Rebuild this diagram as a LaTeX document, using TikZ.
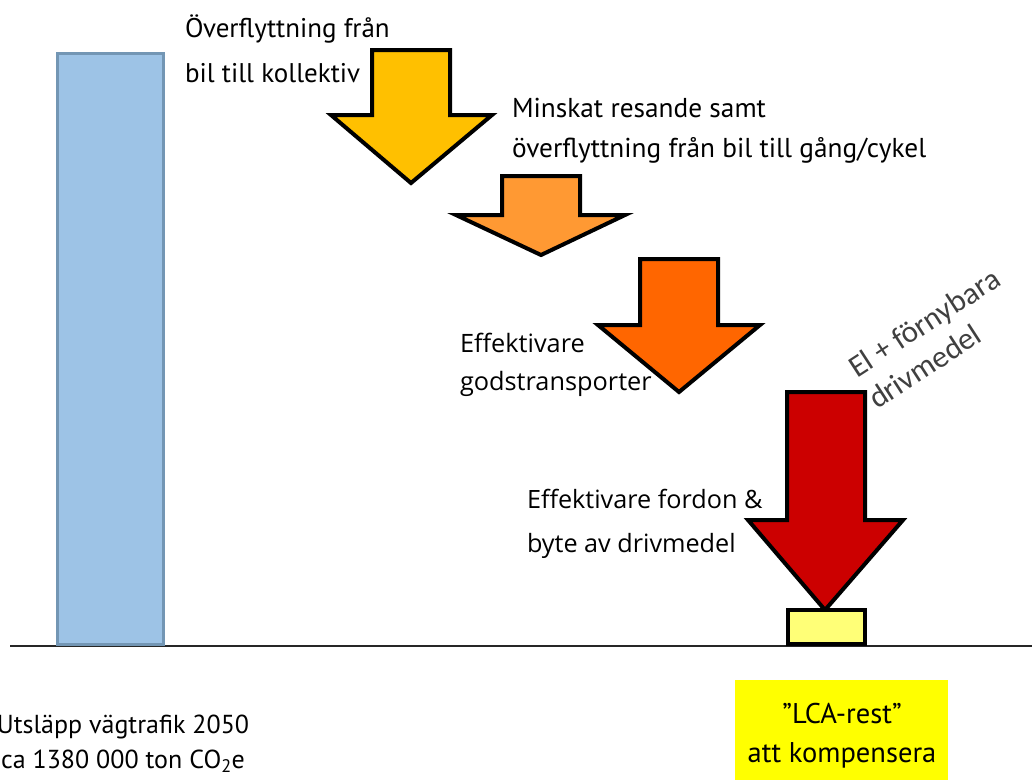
\documentclass[tikz,border=0pt]{standalone}
\usepackage{fontspec}
\setmainfont{PT Sans}
\newfontfamily\osans{Open Sans}
\newfontfamily\calib{Carlito}
\definecolor{barblue}{HTML}{9DC3E6}
\definecolor{baredge}{RGB}{115,150,180}
\definecolor{arrA}{HTML}{FFC000}
\definecolor{arrB}{HTML}{FF9933}
\definecolor{arrC}{HTML}{FF6600}
\definecolor{arrD}{HTML}{CC0000}
\definecolor{restyel}{HTML}{FFFF77}
\definecolor{boxyel}{HTML}{FFFF00}
\definecolor{rotgray}{HTML}{404040}
\tikzset{
  bigarrow/.style={draw=black, line width=4pt, line join=miter},
  lbl/.style={inner sep=0pt, outer sep=0pt, anchor=base west, align=left, text=black},
}
\begin{document}
\begin{tikzpicture}[x=1pt,y=-1pt]
\useasboundingbox (0,0) rectangle (1032,780);
\clip (0,0) rectangle (1032,780);
% baseline
\draw[line width=2pt, black!85] (10,646) -- (1032,646);
% blue bar
\draw[fill=barblue, draw=baredge, line width=3pt] (57,53) rectangle (163,644);
% texts (anchor = baseline of last line)
\node[lbl, font=\fontsize{27}{45}\selectfont] (t1) at (185,82) {Överflyttning från\\bil till kollektiv};
\node[lbl, font=\fontsize{27.3}{40}\selectfont] (t2) at (512,157) {Minskat resande samt\\överflyttning från bil till gång/cykel};
\node[lbl, font=\osans\fontsize{25.3}{38}\selectfont] (t3) at (460,390) {Effektivare\\godstransporter};
\node[lbl, font=\osans\fontsize{25.2}{44}\selectfont] (t4) at (527,552) {Effektivare fordon \&\\byte av drivmedel};
\node[inner sep=0pt, anchor=base, align=center, font=\fontsize{26}{35}\selectfont] (t5) at (123,768) {Utsläpp vägtrafik 2050\\ca 1380 000 ton CO\textsubscript{2}e};
% arrows
\draw[bigarrow, fill=arrA] (372,50) -- (450,50) -- (450,115) -- (492,115) -- (411,183) -- (331,115) -- (372,115) -- cycle;
\draw[bigarrow, fill=arrB] (502,176) -- (580,176) -- (580,215) -- (625,215) -- (541,255) -- (456,215) -- (502,215) -- cycle;
\draw[bigarrow, fill=arrC] (640,259) -- (718,259) -- (718,325) -- (760,325) -- (679,392) -- (598,325) -- (640,325) -- cycle;
\draw[bigarrow, fill=arrD] (787,392) -- (865,392) -- (865,520) -- (903,520) -- (825,610) -- (748,520) -- (787,520) -- cycle;
% LCA rest block
\draw[fill=restyel, draw=black, line width=4pt] (788,610) rectangle (865,644);
% rotated label
\node[inner sep=0pt, anchor=base west, align=left, rotate=33, text=rotgray, font=\calib\fontsize{31}{37}\selectfont] (t6) at (877,410) {El + förnybara\\drivmedel};
% yellow box
\node[fill=boxyel, minimum width=213pt, minimum height=100pt, inner sep=0pt] (box) at (841.5,730) {};
\node[inner sep=0pt, anchor=base, align=center, font=\fontsize{28.5}{39}\selectfont] (boxtxt) at (842,762) {”LCA-rest”\\att kompensera};
\end{tikzpicture}
\end{document}
